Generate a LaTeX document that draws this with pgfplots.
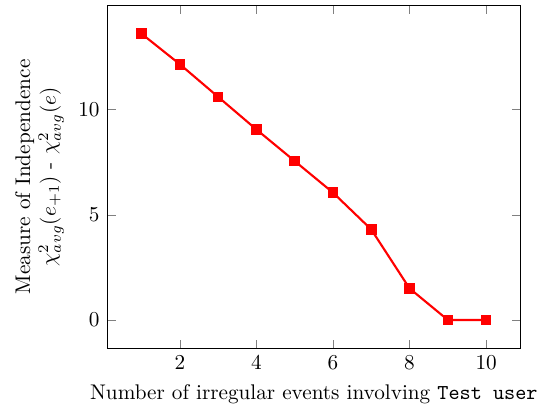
\documentclass[border=0pt]{standalone}
\usepackage{pgfplots}
\pgfplotsset{compat=1.18}
\begin{document}
\begin{tikzpicture}
\begin{axis}[
  scale only axis,
  width=195pt, height=162pt,
  enlargelimits=0.1,
  xtick={2,4,6,8,10},
  ytick={0,5,10},
  xlabel={Number of irregular events involving \texttt{Test user}},
  ylabel={Measure of Independence\\$\chi^2_{avg}(e_{+1})$ - $\chi^2_{avg}(e)$},
  ylabel style={align=center},
]
\addplot[red, line width=1pt, mark=square*, mark size=2pt, mark options={solid, fill=red}] coordinates {
(1,13.6) (2,12.15) (3,10.6) (4,9.05) (5,7.55) (6,6.05) (7,4.3) (8,1.5) (9,0) (10,0)
};
\end{axis}
\pgfresetboundingbox
\path (current axis.south west) ++(-50.5pt,-28pt) coordinate (bl);
\path (current axis.north east) ++(12pt,2.4pt) coordinate (tr);
\path[use as bounding box] (bl) rectangle (tr);
\end{tikzpicture}
\end{document}
